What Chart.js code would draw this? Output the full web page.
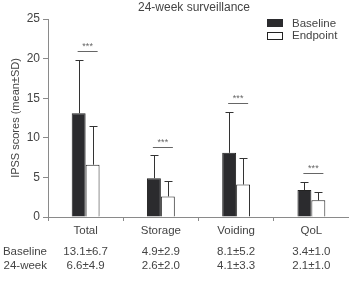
<!DOCTYPE html>
<html>
<head>
<meta charset="utf-8">
<script src="https://cdn.jsdelivr.net/npm/chart.js@4"></script>
<style>
  html, body { margin: 0; padding: 0; background: #fff; }
  #wrap { width: 349px; height: 287px; position: relative; }
</style>
</head>
<body>
<div id="wrap"><canvas id="myCanvas"></canvas></div>
<script>
var categories = ['Total', 'Storage', 'Voiding', 'QoL'];
var baseline = [13.1, 4.9, 8.1, 3.4];
var baselineSD = [6.7, 2.9, 5.2, 1.0];
var endpoint = [6.6, 2.6, 4.1, 2.1];
var endpointSD = [4.9, 2.0, 3.3, 1.0];
var stars = ['***', '***', '***', '***'];
var rowNames = ['Baseline', '24-week'];
var yTicks = [0, 5, 10, 15, 20, 25];

var textColor = '#444';
var axisColor = '#8a8a8a';
var fontFamily = '"Liberation Sans", Arial, sans-serif';

// error bars, significance lines, title, legend and the table underneath
var extras = {
    id: 'extras',
    afterDatasetsDraw: function(chart) {
        var ctx = chart.ctx;
        var y = chart.scales.y;
        var x = chart.scales.x;
        var sets = [[baseline, baselineSD], [endpoint, endpointSD]];
        ctx.save();
        ctx.strokeStyle = '#333';
        ctx.lineWidth = 1;
        for (var d = 0; d < 2; d++) {
            var meta = chart.getDatasetMeta(d);
            for (var i = 0; i < categories.length; i++) {
                var bar = meta.data[i];
                var cx = Math.round(bar.x) + 0.5;
                var top = Math.round(y.getPixelForValue(sets[d][0][i] + sets[d][1][i])) + 0.5;
                ctx.beginPath();
                ctx.moveTo(cx, bar.y);
                ctx.lineTo(cx, top);
                ctx.moveTo(cx - 4, top);
                ctx.lineTo(cx + 4, top);
                ctx.stroke();
            }
        }
        // significance
        ctx.fillStyle = '#666';
        ctx.font = '9px ' + fontFamily;
        ctx.textAlign = 'center';
        ctx.textBaseline = 'alphabetic';
        for (var i = 0; i < categories.length; i++) {
            var hi = Math.max(baseline[i] + baselineSD[i], endpoint[i] + endpointSD[i]);
            var ly = Math.round(y.getPixelForValue(hi + 1.1)) + 0.5;
            var cx = x.getPixelForValue(i);
            ctx.strokeStyle = '#666';
            ctx.beginPath();
            ctx.moveTo(cx - 8, ly);
            ctx.lineTo(cx + 12, ly);
            ctx.stroke();
            ctx.fillText(stars[i], cx + 2, ly - 3);
        }
        // title
        ctx.fillStyle = textColor;
        ctx.font = '12px ' + fontFamily;
        ctx.textBaseline = 'middle';
        ctx.fillText('24-week surveillance', 194, 8);
        // legend
        ctx.fillStyle = '#2b2b2e';
        ctx.fillRect(267, 19, 16, 8);
        ctx.strokeStyle = '#222';
        ctx.strokeRect(267.5, 32.5, 15, 7);
        ctx.fillStyle = textColor;
        ctx.font = '11.5px ' + fontFamily;
        ctx.textAlign = 'left';
        ctx.fillText('Baseline', 292, 24);
        ctx.fillText('Endpoint', 292, 36);
        // table
        ctx.font = '11.5px ' + fontFamily;
        ctx.textAlign = 'right';
        ctx.fillText(rowNames[0], 47, 252);
        ctx.fillText(rowNames[1], 47, 266);
        ctx.textAlign = 'center';
        for (var i = 0; i < categories.length; i++) {
            var cx = x.getPixelForValue(i);
            ctx.fillText(baseline[i].toFixed(1) + '±' + baselineSD[i].toFixed(1), cx, 252);
            ctx.fillText(endpoint[i].toFixed(1) + '±' + endpointSD[i].toFixed(1), cx, 266);
        }
        ctx.restore();
    }
};

var ctx = document.getElementById('myCanvas').getContext('2d');
var chart = new Chart(ctx, {
    type: 'bar',
    data: {
        labels: categories,
        datasets: [{
            label: 'Baseline',
            data: baseline,
            backgroundColor: '#2b2b2e',
            borderColor: '#222',
            borderWidth: 1
        }, {
            label: 'Endpoint',
            data: endpoint,
            backgroundColor: '#ffffff',
            borderColor: '#222',
            borderWidth: 1
        }]
    },
    options: {
        responsive: true,
        maintainAspectRatio: false,
        animation: false,
        categoryPercentage: 0.37,
        barPercentage: 1.0,
        layout: { padding: { top: 19, right: 0, bottom: 0, left: 0 } },
        plugins: {
            legend: { display: false },
            title: { display: false },
            tooltip: { enabled: false }
        },
        scales: {
            x: {
                grid: { display: true, drawOnChartArea: false, offset: true, tickLength: 4, color: axisColor },
                border: { color: axisColor, width: 1 },
                ticks: { color: textColor, font: { family: fontFamily, size: 11.5 }, padding: 3 },
                afterFit: function(scale) { scale.height = 70; }
            },
            y: {
                min: 0,
                max: 25,
                afterBuildTicks: function(scale) {
                    scale.ticks = yTicks.map(function(v) { return { value: v }; });
                },
                grid: { display: true, drawOnChartArea: false, tickLength: 5, color: axisColor },
                border: { color: axisColor, width: 1 },
                ticks: { color: textColor, font: { family: fontFamily, size: 12 }, padding: 3 },
                title: {
                    display: true,
                    text: 'IPSS scores (mean±SD)',
                    color: textColor,
                    font: { family: fontFamily, size: 11 },
                    padding: { top: 9, bottom: 0 }
                },
                afterFit: function(scale) { scale.width = 48; }
            }
        }
    },
    plugins: [extras]
});
</script>
</body>
</html>
